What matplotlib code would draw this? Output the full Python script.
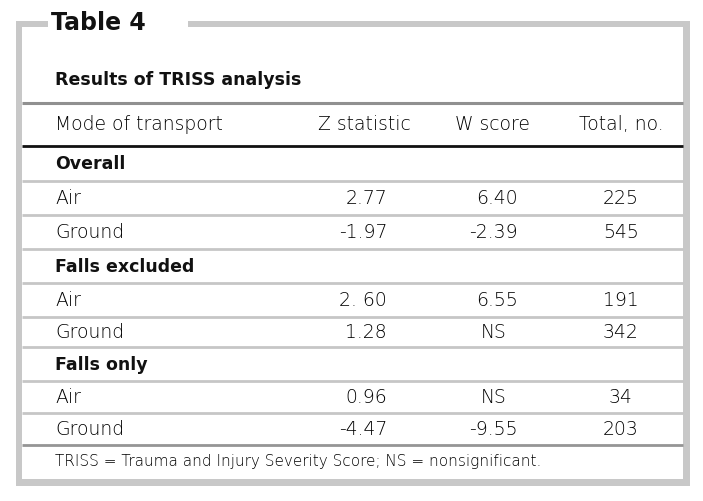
import matplotlib.pyplot as plt
from matplotlib.patches import Rectangle

plt.rcParams["font.family"] = ["DejaVu Sans"]

# Table content
TITLE = "Table 4"
SUBTITLE = "Results of TRISS analysis"
HEADERS = ["Mode of transport", "Z statistic", "W score", "Total, no."]
GROUPS = ["Overall", "Falls excluded", "Falls only"]
MODES = ["Air", "Ground"]
Z_STATS = [["2.77", "-1.97"], ["2. 60", "1.28"], ["0.96", "-4.47"]]
W_SCORES = [["6.40", "-2.39"], ["6.55", "NS"], ["NS", "-9.55"]]
TOTALS = [["225", "545"], ["191", "342"], ["34", "203"]]
FOOTNOTE = "TRISS = Trauma and Injury Severity Score; NS = nonsignificant."

W, H = 703, 502
FRAME = "#c8c8c8"
TEXT = "#000000"
BODY = dict(fontsize=13.5, fontweight="light", color=TEXT, va="center")
# pixel height of each table row, top to bottom
ROW_H = [35, 34, 34, 34, 34, 30, 34, 32, 32]

fig = plt.figure(figsize=(W / 100, H / 100), dpi=100)
ax = fig.add_axes([0, 0, 1, 1])
ax.set_xlim(0, W)
ax.set_ylim(H, 0)
ax.axis("off")

# outer frame (gap in top edge for the title)
ax.add_patch(Rectangle((16, 22), 6, 465, color=FRAME, lw=0))
ax.add_patch(Rectangle((683, 22), 7, 465, color=FRAME, lw=0))
ax.add_patch(Rectangle((16, 480), 674, 7, color=FRAME, lw=0))
ax.add_patch(Rectangle((16, 22), 32, 6, color=FRAME, lw=0))
ax.add_patch(Rectangle((188, 22), 502, 6, color=FRAME, lw=0))

ax.text(51, 23, TITLE, fontsize=17, fontweight="bold", color="#111111", va="center", ha="left")
ax.text(55, 80, SUBTITLE, fontsize=12.5, fontweight="bold", color="#111111", va="center", ha="left")

x0, x1 = 22, 683
ax.plot([x0, x1], [104, 104], color="#909090", lw=2.2, solid_capstyle="butt")

# column anchors
col_x = [55, 387, 518, 621]
head_x = [55, 364, 492, 621]
head_y = 125
for i, h in enumerate(HEADERS):
    ax.text(head_x[i], head_y, h, ha="left" if i == 0 else "center", **BODY)

top = 147
ax.plot([x0, x1], [top, top], color="#111111", lw=2, solid_capstyle="butt")

y = top
r = 0
for g, group in enumerate(GROUPS):
    ax.text(col_x[0], y + ROW_H[r] / 2, group, fontsize=12.5, fontweight="bold",
            color="#111111", va="center")
    y += ROW_H[r]
    r += 1
    for m, mode in enumerate(MODES):
        ax.plot([x0, x1], [y, y], color="#c6c6c6", lw=2, solid_capstyle="butt")
        yc = y + ROW_H[r] / 2
        ax.text(col_x[0], yc, mode, **BODY)
        ax.text(col_x[1], yc, Z_STATS[g][m], ha="right", **BODY)
        w = W_SCORES[g][m]
        if w == "NS":
            ax.text(head_x[2] + 2, yc, w, ha="center", **BODY)
        else:
            ax.text(col_x[2], yc, w, ha="right", **BODY)
        ax.text(col_x[3], yc, TOTALS[g][m], ha="center", **BODY)
        y += ROW_H[r]
        r += 1
    if g < len(GROUPS) - 1:
        ax.plot([x0, x1], [y, y], color="#c6c6c6", lw=2, solid_capstyle="butt")

ax.plot([x0, x1], [y, y], color="#959595", lw=2, solid_capstyle="butt")
ax.text(55, y + 16, FOOTNOTE, fontsize=11, fontweight="light", color=TEXT, va="center")

fig.savefig("out.png", dpi=100, facecolor="white")
